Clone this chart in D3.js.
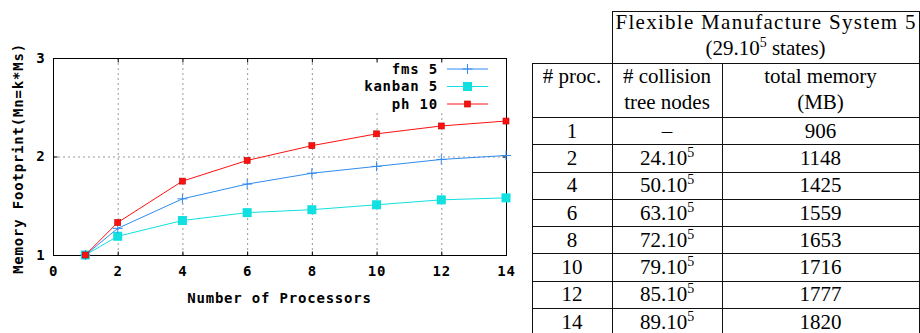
<!DOCTYPE html>
<html>
<head>
<meta charset="utf-8">
<script src="https://cdn.jsdelivr.net/npm/d3@7"></script>
<style>
  body { margin: 0; background: #fff; }
  svg { display: block; }
  .mono { font-family: "DejaVu Sans Mono", monospace; font-weight: bold; font-size: 14px; letter-spacing: 0.8px; fill: #000; }
  .serif { font-family: "Liberation Serif", "Times New Roman", serif; font-size: 21px; fill: #000; }
</style>
</head>
<body>
<div id="chart"></div>
<script>
// chart data
const procs = [1, 2, 4, 6, 8, 10, 12, 14];
const fms5 = [1.0, 1.27, 1.57, 1.72, 1.83, 1.90, 1.97, 2.01];
const kanban5 = [1.0, 1.19, 1.35, 1.43, 1.46, 1.51, 1.56, 1.58];
const ph10 = [1.0, 1.33, 1.75, 1.96, 2.11, 2.23, 2.31, 2.36];
const xTicks = [0, 2, 4, 6, 8, 10, 12, 14];
const yTicks = [1, 2, 3];

// table data
const tableProcs = ["1", "2", "4", "6", "8", "10", "12", "14"];
const collisionNodes = ["–", "24.10", "50.10", "63.10", "72.10", "79.10", "85.10", "89.10"];
const totalMemory = ["906", "1148", "1425", "1559", "1653", "1716", "1777", "1820"];

const width = 920, height = 333;
const margin = { top: 58, right: 414, bottom: 78, left: 53 };

const svg = d3.select('#chart').append('svg')
  .attr('width', width)
  .attr('height', height);

const x = d3.scaleLinear().domain([0, 14]).range([margin.left, width - margin.right]);
const y = d3.scaleLinear().domain([1, 3]).range([height - margin.bottom, margin.top]);

// grid
const grid = svg.append('g')
  .attr('stroke', '#999')
  .attr('stroke-dasharray', '2,3')
  .attr('stroke-width', 1);
grid.selectAll('line.vx')
  .data(xTicks.filter(d => d > 0 && d < 14))
  .enter().append('line')
  .attr('x1', d => x(d) + 0.5).attr('x2', d => x(d) + 0.5)
  .attr('y1', y(3)).attr('y2', y(1));
grid.selectAll('line.hy')
  .data(yTicks.filter(d => d > 1 && d < 3))
  .enter().append('line')
  .attr('x1', x(0)).attr('x2', x(14))
  .attr('y1', d => y(d) + 0.5).attr('y2', d => y(d) + 0.5);

// legend background hides the grid behind it
svg.append('rect')
  .attr('x', 360).attr('y', y(3) + 5)
  .attr('width', 136).attr('height', 50)
  .attr('fill', '#fff');

// axes (ticks inward, mirrored)
const tick = 4;
svg.append('g')
  .attr('transform', `translate(0,${y(1) + 0.5})`)
  .call(d3.axisBottom(x).tickValues(xTicks).tickSize(-tick).tickPadding(11).tickFormat(d3.format('d')))
  .call(g => g.select('.domain').remove())
  .call(g => g.selectAll('text').attr('class', 'mono').attr('font-family', null).attr('font-size', null));
svg.append('g')
  .attr('transform', `translate(0,${y(3) + 0.5})`)
  .call(d3.axisTop(x).tickValues(xTicks).tickSize(-tick).tickFormat(''))
  .call(g => g.select('.domain').remove());
svg.append('g')
  .attr('transform', `translate(${x(0) + 0.5},0)`)
  .call(d3.axisLeft(y).tickValues(yTicks).tickSize(-tick).tickPadding(8).tickFormat(d3.format('d')))
  .call(g => g.select('.domain').remove())
  .call(g => g.selectAll('text').attr('class', 'mono').attr('font-family', null).attr('font-size', null));
svg.append('g')
  .attr('transform', `translate(${x(14) + 0.5},0)`)
  .call(d3.axisRight(y).tickValues(yTicks).tickSize(-tick).tickFormat(''))
  .call(g => g.select('.domain').remove());

// frame
svg.append('rect')
  .attr('x', x(0) + 0.5).attr('y', y(3) + 0.5)
  .attr('width', x(14) - x(0)).attr('height', y(1) - y(3))
  .attr('fill', 'none').attr('stroke', '#000').attr('stroke-width', 1);

// axis titles
svg.append('text')
  .attr('class', 'mono')
  .attr('x', (x(0) + x(14)) / 2).attr('y', 303)
  .attr('text-anchor', 'middle')
  .text('Number of Processors');
svg.append('text')
  .attr('class', 'mono')
  .attr('transform', `translate(23,${(y(1) + y(3)) / 2 + 2}) rotate(-90)`)
  .attr('text-anchor', 'middle')
  .text('Memory Footprint(Mn=k*Ms)');

// series
const series = [
  { name: 'fms 5', values: fms5, color: '#2f8cf0', marker: 'plus' },
  { name: 'kanban 5', values: kanban5, color: '#10e0e0', marker: 'bigsq' },
  { name: 'ph 10', values: ph10, color: '#ff1010', marker: 'smallsq' }
];

const line = d3.line()
  .x(d => x(d[0]))
  .y(d => y(d[1]));

function drawMarker(g, type, color, cx, cy) {
  if (type === 'plus') {
    g.append('path')
      .attr('d', `M${cx - 5},${cy}H${cx + 5}M${cx},${cy - 5}V${cy + 5}`)
      .attr('stroke', color).attr('stroke-width', 1);
  } else if (type === 'bigsq') {
    g.append('rect')
      .attr('x', cx - 4.5).attr('y', cy - 4.5)
      .attr('width', 9).attr('height', 9)
      .attr('fill', color);
  } else {
    g.append('rect')
      .attr('x', cx - 3).attr('y', cy - 3)
      .attr('width', 6).attr('height', 6)
      .attr('fill', color).attr('stroke', '#c00000').attr('stroke-width', 0.6);
  }
}

// draw in order: kanban, fms, ph on top
[series[1], series[0], series[2]].forEach(s => {
  const pts = procs.map((p, i) => [p, s.values[i]]);
  const g = svg.append('g');
  g.append('path')
    .datum(pts)
    .attr('fill', 'none')
    .attr('stroke', s.color)
    .attr('stroke-width', 1)
    .attr('d', line);
  pts.forEach(d => drawMarker(g, s.marker, s.color, x(d[0]), y(d[1])));
});

// legend
const legendY = d3.scalePoint().domain(series.map(s => s.name)).range([69, 104]);
series.forEach(s => {
  const ly = legendY(s.name);
  svg.append('text')
    .attr('class', 'mono')
    .attr('x', 438).attr('y', ly)
    .attr('dy', '0.35em')
    .attr('text-anchor', 'end')
    .text(s.name);
  svg.append('line')
    .attr('x1', 447).attr('x2', 488)
    .attr('y1', ly).attr('y2', ly)
    .attr('stroke', s.color).attr('stroke-width', 1);
  drawMarker(svg.append('g'), s.marker, s.color, 467.5, ly);
});

// ---- table ----
const colEdges = [532, 612, 722, 919];
const rowY = d3.scaleBand().domain(tableProcs).range([117, 335]);
const tbl = svg.append('g').attr('stroke', '#111').attr('stroke-width', 1);

// horizontal lines
tbl.append('line').attr('x1', colEdges[1]).attr('x2', colEdges[3]).attr('y1', 11.5).attr('y2', 11.5);
tbl.append('line').attr('x1', colEdges[0]).attr('x2', colEdges[3]).attr('y1', 63.5).attr('y2', 63.5);
tbl.selectAll('line.row')
  .data(tableProcs)
  .enter().append('line')
  .attr('x1', colEdges[0]).attr('x2', colEdges[3])
  .attr('y1', d => Math.round(rowY(d)) + 0.5)
  .attr('y2', d => Math.round(rowY(d)) + 0.5);

// vertical lines
tbl.append('line').attr('x1', colEdges[0] + 0.5).attr('x2', colEdges[0] + 0.5).attr('y1', 63).attr('y2', 333);
tbl.append('line').attr('x1', colEdges[1] + 0.5).attr('x2', colEdges[1] + 0.5).attr('y1', 11).attr('y2', 333);
tbl.append('line').attr('x1', colEdges[2] + 0.5).attr('x2', colEdges[2] + 0.5).attr('y1', 63).attr('y2', 333);
tbl.append('line').attr('x1', colEdges[3] + 0.5).attr('x2', colEdges[3] + 0.5).attr('y1', 11).attr('y2', 333);

const colMid = i => (colEdges[i] + colEdges[i + 1]) / 2;
const topMid = (colEdges[1] + colEdges[3]) / 2;

function cellText(tx, ty, str, sup) {
  const t = svg.append('text')
    .attr('class', 'serif')
    .attr('x', tx).attr('y', ty)
    .attr('dy', '0.35em')
    .attr('text-anchor', 'middle');
  t.append('tspan').text(str);
  if (sup) {
    t.append('tspan').attr('dy', -8).attr('font-size', '14px').text(sup);
  }
  return t;
}

// header
svg.append('text').attr('class', 'serif')
  .attr('x', topMid).attr('y', 22).attr('dy', '0.35em').attr('text-anchor', 'middle')
  .attr('textLength', 300).attr('lengthAdjust', 'spacing')
  .text('Flexible Manufacture System 5');
{
  const t = svg.append('text').attr('class', 'serif')
    .attr('x', topMid).attr('y', 48).attr('dy', '0.35em').attr('text-anchor', 'middle');
  t.append('tspan').text('(29.10');
  t.append('tspan').attr('dy', -8).attr('font-size', '14px').text('5');
  t.append('tspan').attr('dy', 8).text(' states)');
}
cellText(colMid(0), 76, '# proc.');
cellText(colMid(1), 76, '# collision');
cellText(colMid(1), 102, 'tree nodes');
cellText(colMid(2), 76, 'total memory');
cellText(colMid(2), 102, '(MB)');

// data rows
tableProcs.forEach((p, i) => {
  const cy = rowY(p) + rowY.bandwidth() / 2;
  cellText(colMid(0), cy, p);
  cellText(colMid(1), cy, collisionNodes[i], i > 0 ? '5' : null);
  cellText(colMid(2), cy, totalMemory[i]);
});
</script>
</body>
</html>
